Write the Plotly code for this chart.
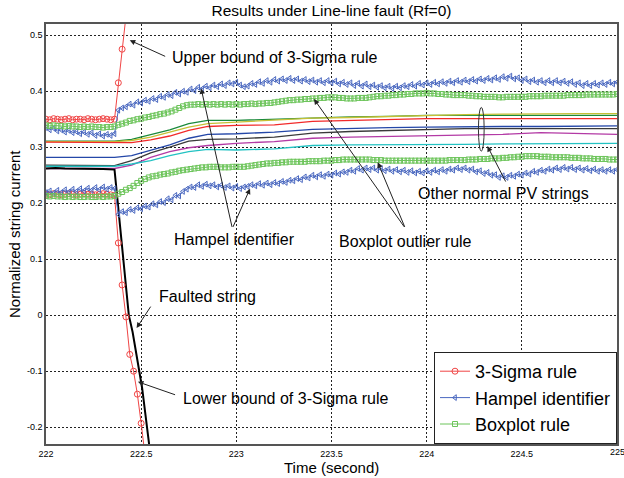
import numpy as np
import plotly.graph_objects as go

# ---------------------------------------------------------------- data
# bound curves sampled every 0.02 s from 222 s to 225 s
t_bound = np.round(np.linspace(222.0, 225.0, 151), 2)

hampel_upper = [
    0.335, 0.331, 0.334, 0.329, 0.331, 0.327, 0.330, 0.326, 0.328, 0.324,
    0.327, 0.323, 0.326, 0.321, 0.324, 0.320, 0.323, 0.321, 0.324, 0.366,
    0.370, 0.372, 0.377, 0.375, 0.381, 0.379, 0.384, 0.382, 0.387, 0.385,
    0.391, 0.389, 0.394, 0.392, 0.398, 0.395, 0.400, 0.398, 0.404, 0.401,
    0.407, 0.404, 0.409, 0.406, 0.411, 0.408, 0.413, 0.410, 0.415, 0.413,
    0.416, 0.411, 0.408, 0.409, 0.414, 0.412, 0.417, 0.414, 0.419, 0.416,
    0.421, 0.418, 0.422, 0.419, 0.423, 0.419, 0.422, 0.418, 0.421, 0.417,
    0.420, 0.416, 0.419, 0.415, 0.419, 0.415, 0.418, 0.413, 0.416, 0.412,
    0.415, 0.410, 0.414, 0.409, 0.413, 0.408, 0.411, 0.407, 0.410, 0.406,
    0.409, 0.405, 0.409, 0.406, 0.410, 0.408, 0.412, 0.409, 0.414, 0.411,
    0.415, 0.412, 0.416, 0.413, 0.417, 0.414, 0.418, 0.415, 0.419, 0.416,
    0.420, 0.417, 0.421, 0.418, 0.422, 0.419, 0.423, 0.420, 0.424, 0.421,
    0.426, 0.423, 0.427, 0.422, 0.424, 0.419, 0.422, 0.417, 0.420, 0.416,
    0.419, 0.415, 0.419, 0.415, 0.419, 0.415, 0.418, 0.414, 0.417, 0.412,
    0.415, 0.410, 0.414, 0.410, 0.414, 0.411, 0.415, 0.412, 0.416, 0.413,
    0.416,
]

hampel_lower = [
    0.219, 0.222, 0.218, 0.223, 0.219, 0.224, 0.220, 0.225, 0.221, 0.226,
    0.222, 0.227, 0.223, 0.228, 0.224, 0.229, 0.225, 0.228, 0.226, 0.180,
    0.185, 0.183, 0.189, 0.187, 0.192, 0.190, 0.195, 0.193, 0.199, 0.197,
    0.203, 0.201, 0.208, 0.206, 0.214, 0.213, 0.221, 0.225, 0.229, 0.228,
    0.233, 0.230, 0.234, 0.231, 0.233, 0.229, 0.232, 0.228, 0.231, 0.227,
    0.230, 0.226, 0.229, 0.230, 0.233, 0.231, 0.235, 0.232, 0.236, 0.233,
    0.237, 0.235, 0.239, 0.237, 0.241, 0.240, 0.244, 0.242, 0.247, 0.245,
    0.250, 0.247, 0.251, 0.248, 0.252, 0.250, 0.254, 0.252, 0.256, 0.255,
    0.259, 0.257, 0.262, 0.259, 0.263, 0.260, 0.263, 0.259, 0.262, 0.258,
    0.261, 0.257, 0.260, 0.256, 0.259, 0.255, 0.258, 0.254, 0.257, 0.254,
    0.258, 0.255, 0.259, 0.256, 0.260, 0.257, 0.261, 0.259, 0.263, 0.260,
    0.263, 0.259, 0.261, 0.256, 0.258, 0.253, 0.255, 0.250, 0.251, 0.246,
    0.249, 0.246, 0.250, 0.248, 0.252, 0.250, 0.254, 0.252, 0.257, 0.255,
    0.259, 0.257, 0.261, 0.259, 0.263, 0.260, 0.264, 0.261, 0.264, 0.260,
    0.263, 0.259, 0.262, 0.258, 0.261, 0.257, 0.260, 0.257, 0.260, 0.257,
    0.260,
]

boxplot_upper = [
    0.339, 0.338, 0.339, 0.338, 0.338, 0.337, 0.338, 0.337, 0.337, 0.336,
    0.337, 0.336, 0.337, 0.336, 0.336, 0.335, 0.336, 0.336, 0.337, 0.340,
    0.342, 0.344, 0.347, 0.348, 0.350, 0.351, 0.353, 0.354, 0.356, 0.357,
    0.359, 0.360, 0.362, 0.364, 0.367, 0.370, 0.373, 0.375, 0.376, 0.376,
    0.377, 0.376, 0.377, 0.376, 0.377, 0.376, 0.377, 0.376, 0.377, 0.376,
    0.377, 0.376, 0.377, 0.377, 0.378, 0.377, 0.378, 0.378, 0.379, 0.379,
    0.380, 0.381, 0.382, 0.383, 0.384, 0.384, 0.385, 0.385, 0.386, 0.386,
    0.387, 0.387, 0.388, 0.388, 0.389, 0.389, 0.389, 0.388, 0.388, 0.387,
    0.387, 0.387, 0.388, 0.388, 0.388, 0.389, 0.390, 0.391, 0.391, 0.392,
    0.392, 0.393, 0.393, 0.394, 0.394, 0.395, 0.395, 0.396, 0.396, 0.396,
    0.397, 0.396, 0.396, 0.395, 0.395, 0.394, 0.394, 0.393, 0.393, 0.393,
    0.393, 0.392, 0.392, 0.391, 0.391, 0.390, 0.390, 0.390, 0.390, 0.389,
    0.389, 0.390, 0.390, 0.390, 0.390, 0.390, 0.390, 0.391, 0.391, 0.391,
    0.391, 0.392, 0.392, 0.392, 0.392, 0.392, 0.392, 0.393, 0.393, 0.393,
    0.393, 0.393, 0.394, 0.394, 0.394, 0.394, 0.394, 0.394, 0.394, 0.394,
    0.395,
]

boxplot_lower = [
    0.213, 0.212, 0.213, 0.212, 0.212, 0.211, 0.212, 0.211, 0.212, 0.211,
    0.211, 0.212, 0.211, 0.211, 0.212, 0.211, 0.212, 0.212, 0.213, 0.217,
    0.220, 0.224, 0.227, 0.231, 0.236, 0.240, 0.243, 0.246, 0.248, 0.249,
    0.251, 0.252, 0.253, 0.255, 0.256, 0.258, 0.259, 0.260, 0.261, 0.262,
    0.263, 0.264, 0.264, 0.265, 0.265, 0.265, 0.264, 0.264, 0.264, 0.265,
    0.265, 0.265, 0.265, 0.266, 0.267, 0.268, 0.269, 0.270, 0.271, 0.271,
    0.272, 0.272, 0.273, 0.273, 0.274, 0.274, 0.274, 0.274, 0.274, 0.275,
    0.275, 0.275, 0.275, 0.276, 0.276, 0.276, 0.277, 0.277, 0.278, 0.278,
    0.278, 0.278, 0.278, 0.278, 0.278, 0.278, 0.277, 0.277, 0.277, 0.276,
    0.276, 0.276, 0.276, 0.276, 0.276, 0.276, 0.276, 0.276, 0.276, 0.276,
    0.276, 0.276, 0.276, 0.276, 0.276, 0.276, 0.277, 0.277, 0.277, 0.277,
    0.277, 0.278, 0.278, 0.278, 0.279, 0.279, 0.279, 0.280, 0.280, 0.280,
    0.281, 0.281, 0.282, 0.282, 0.283, 0.283, 0.284, 0.284, 0.284, 0.284,
    0.283, 0.283, 0.283, 0.282, 0.282, 0.282, 0.282, 0.282, 0.281, 0.281,
    0.281, 0.280, 0.280, 0.280, 0.279, 0.279, 0.279, 0.279, 0.278, 0.278,
    0.278,
]

# 3-sigma bounds: leave the visible range right after the fault
t_sigma = [222.00, 222.02, 222.04, 222.06, 222.08, 222.10, 222.12, 222.14,
           222.16, 222.18, 222.20, 222.22, 222.24, 222.26, 222.28, 222.30,
           222.32, 222.34, 222.36, 222.38, 222.40, 222.42, 222.44, 222.46,
           222.48, 222.50, 222.52]
sigma_upper = [0.350, 0.349, 0.351, 0.350, 0.349, 0.350, 0.351, 0.349,
               0.350, 0.350, 0.349, 0.351, 0.350, 0.349, 0.350, 0.351,
               0.350, 0.349, 0.350, 0.415, 0.475, 0.540, 0.600, 0.660,
               0.720, 0.780, 0.840]
sigma_lower = [0.216, 0.215, 0.217, 0.216, 0.215, 0.216, 0.217, 0.216,
               0.215, 0.216, 0.217, 0.216, 0.216, 0.215, 0.216, 0.217,
               0.216, 0.215, 0.214, 0.129, 0.054, -0.003, -0.070, -0.100,
               -0.141, -0.193, -0.250]

# faulted string current
t_fault = [222.00, 222.05, 222.10, 222.20, 222.30, 222.36, 222.435, 222.455,
           222.505, 222.56]
i_fault = [0.262, 0.263, 0.262, 0.262, 0.261, 0.260, 0.000, -0.030,
           -0.130, -0.280]

# healthy strings
t_norm = [222.0, 222.2, 222.36, 222.45, 222.55, 222.65, 222.75, 222.85,
          223.0, 223.2, 223.4, 223.6, 223.8, 224.0, 224.2, 224.4, 224.6,
          224.8, 225.0]
normal_strings = {
    "#1b8a3c": [0.311, 0.311, 0.311, 0.314, 0.322, 0.331, 0.342, 0.348,
                0.348, 0.350, 0.353, 0.354, 0.355, 0.357, 0.357, 0.357,
                0.356, 0.357, 0.357],
    "#c6c035": [0.310, 0.310, 0.310, 0.312, 0.318, 0.327, 0.336, 0.342,
                0.345, 0.348, 0.352, 0.353, 0.355, 0.357, 0.358, 0.359,
                0.360, 0.360, 0.360],
    "#f22a2a": [0.309, 0.309, 0.309, 0.308, 0.313, 0.320, 0.330, 0.337,
                0.339, 0.340, 0.346, 0.348, 0.349, 0.351, 0.351, 0.351,
                0.350, 0.351, 0.351],
    "#2447a8": [0.282, 0.282, 0.282, 0.285, 0.294, 0.304, 0.316, 0.323,
                0.324, 0.327, 0.332, 0.334, 0.335, 0.336, 0.337, 0.337,
                0.337, 0.337, 0.338],
    "#3a3a3a": [0.268, 0.268, 0.267, 0.276, 0.290, 0.300, 0.311, 0.314,
                0.315, 0.318, 0.325, 0.328, 0.330, 0.332, 0.333, 0.333,
                0.333, 0.333, 0.333],
    "#b33aa5": [0.262, 0.262, 0.262, 0.268, 0.282, 0.292, 0.299, 0.303,
                0.307, 0.310, 0.316, 0.318, 0.319, 0.320, 0.322, 0.323,
                0.326, 0.324, 0.323],
    "#22c2c2": [0.266, 0.266, 0.266, 0.270, 0.276, 0.285, 0.292, 0.296,
                0.295, 0.297, 0.303, 0.304, 0.304, 0.305, 0.305, 0.306,
                0.306, 0.307, 0.307],
}

x_ticks = [222, 222.5, 223, 223.5, 224, 224.5, 225]
x_tick_text = ["222", "222.5", "223", "223.5", "224", "224.5", "225"]
y_ticks = [-0.2, -0.1, 0, 0.1, 0.2, 0.3, 0.4, 0.5]
y_tick_text = ["-0.2", "-0.1", "0", "0.1", "0.2", "0.3", "0.4", "0.5"]

FONT = "Liberation Sans, Arial"

# ---------------------------------------------------------------- figure
fig = go.Figure()

for color, vals in normal_strings.items():
    fig.add_trace(go.Scatter(x=t_norm, y=vals, mode="lines",
                             line=dict(color=color, width=1.3),
                             showlegend=False, hoverinfo="skip"))

fig.add_trace(go.Scatter(x=t_fault, y=i_fault, mode="lines",
                         line=dict(color="black", width=2),
                         showlegend=False))

SIGMA_C = "#f04545"
HAMPEL_C = "#4a68c0"
BOX_C = "#6cc45a"

def bound(x, y, color, symbol, size, name, legend):
    fig.add_trace(go.Scatter(
        x=x, y=y, mode="lines+markers", name=name, showlegend=legend,
        legendgroup=name,
        line=dict(color=color, width=1),
        marker=dict(symbol=symbol, size=size, color=color,
                    line=dict(color=color, width=1)),
    ))

bound(t_sigma, sigma_upper, SIGMA_C, "circle-open", 6, "3-Sigma rule", True)
bound(t_sigma, sigma_lower, SIGMA_C, "circle-open", 6, "3-Sigma rule", False)
bound(t_bound, hampel_upper, HAMPEL_C, "triangle-left-open", 5, "Hampel identifier", True)
bound(t_bound, hampel_lower, HAMPEL_C, "triangle-left-open", 5, "Hampel identifier", False)
bound(t_bound, boxplot_upper, BOX_C, "square-open", 5, "Boxplot rule", True)
bound(t_bound, boxplot_lower, BOX_C, "square-open", 5, "Boxplot rule", False)

# ---------------------------------------------------------------- callouts
LABEL_FONT = dict(family=FONT, size=16, color="black")

labels = [
    ("Upper bound of 3-Sigma rule", 222.649, 0.461),
    ("Hampel identifier", 222.66, 0.136),
    ("Boxplot outlier rule", 223.528, 0.131),
    ("Other normal PV strings", 223.942, 0.218),
    ("Faulted string", 222.581, 0.033),
    ("Lower bound of 3-Sigma rule", 222.710, -0.148),
]
for text, x, y in labels:
    fig.add_annotation(x=x, y=y, text=text, showarrow=False,
                       xanchor="left", yanchor="middle", font=LABEL_FONT)

# (tip_x, tip_y, tail_x, tail_y)
arrows = [
    (222.44, 0.491, 222.634, 0.461),
    (222.815, 0.405, 222.979, 0.155),
    (223.072, 0.226, 222.979, 0.155),
    (223.408, 0.386, 223.888, 0.155),
    (223.743, 0.273, 223.888, 0.155),
    (224.319, 0.302, 224.419, 0.236),
    (222.476, -0.023, 222.555, 0.018),
    (222.483, -0.119, 222.686, -0.143),
]
for tx, ty, sx, sy in arrows:
    fig.add_annotation(x=tx, y=ty, ax=sx, ay=sy, xref="x", yref="y",
                       axref="x", ayref="y", text="", showarrow=True,
                       arrowhead=2, arrowsize=1.1, arrowwidth=1,
                       arrowcolor="#222222", standoff=0)

# ellipse grouping the healthy strings
fig.add_shape(type="circle", xref="x", yref="y",
              x0=224.272, x1=224.302, y0=0.293, y1=0.371,
              line=dict(color="#333333", width=1))

# axis titles and the last x tick label (which runs past the page edge)
fig.add_annotation(text="Time (second)", xref="paper", yref="paper",
                   x=0.5, y=-0.055, showarrow=False, yanchor="middle",
                   font=dict(family=FONT, size=15, color="black"))
fig.add_annotation(text="Normalized string current", xref="paper", yref="paper",
                   x=-0.056, y=0.5, showarrow=False, textangle=-90,
                   xanchor="center", yanchor="middle",
                   font=dict(family=FONT, size=15, color="black"))
fig.add_annotation(text=x_tick_text[-1], xref="x", yref="paper",
                   x=x_ticks[-1], y=-0.02, showarrow=False, yanchor="middle",
                   xanchor="center", font=dict(family=FONT, size=9, color="black"))

axis_common = dict(showline=True, mirror=True, linecolor="#555555", linewidth=1.5,
                   showgrid=True, gridcolor="#222222", gridwidth=1,
                   griddash="2px,2px", zeroline=False, ticks="",
                   tickfont=dict(family=FONT, size=9, color="black"))

fig.update_layout(
    width=624, height=478,
    margin=dict(l=46, r=5, t=24, b=34),
    paper_bgcolor="white", plot_bgcolor="white",
    title=dict(text="Results under Line-line fault (Rf=0)", xref="paper", x=0.5,
               y=1 - 11 / 478, yanchor="middle", xanchor="center",
               font=dict(family=FONT, size=15.5, color="black")),
    xaxis=dict(range=[222, 225], tickvals=x_ticks[:-1], ticktext=x_tick_text[:-1],
               **axis_common),
    yaxis=dict(range=[-0.23, 0.52], tickvals=y_ticks, ticktext=y_tick_text,
               **axis_common),
    legend=dict(x=1, y=0, xanchor="right", yanchor="bottom",
                bgcolor="white", bordercolor="#222222", borderwidth=1,
                font=dict(family=FONT, size=18, color="black"),
                tracegroupgap=0, itemwidth=30),
    showlegend=True,
)

fig.write_html("out.html")
